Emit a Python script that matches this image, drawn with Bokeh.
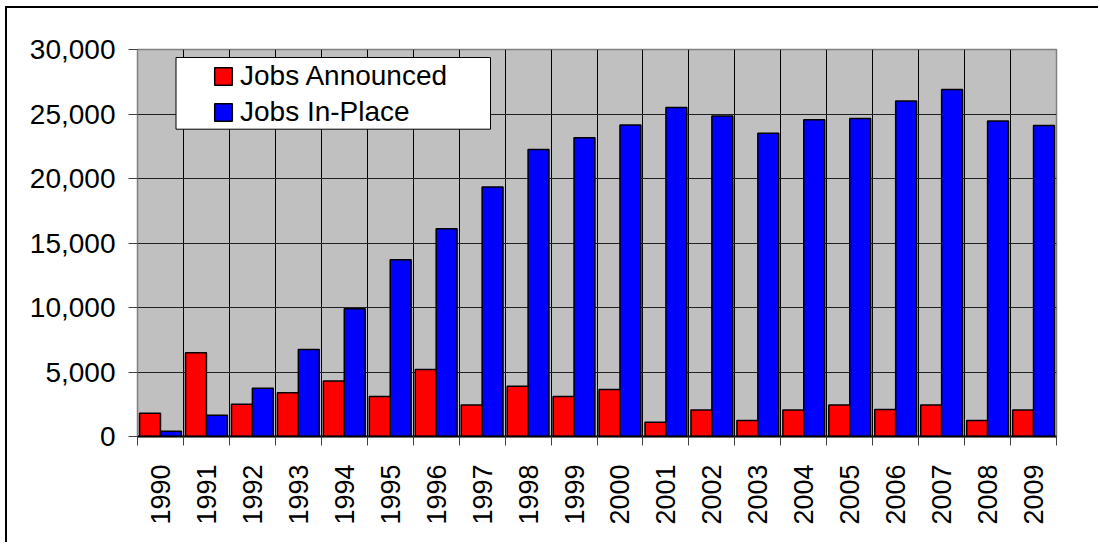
import math
from bokeh.plotting import figure
from bokeh.models import Range1d, FixedTicker, NumeralTickFormatter, BoxAnnotation, ColumnDataSource
from bokeh.embed import file_html
from bokeh.resources import INLINE

years = [str(y) for y in range(1990, 2010)]
jobs_announced = [1800, 6500, 2500, 3400, 4300, 3100, 5200, 2450, 3900, 3100,
                  3650, 1100, 2050, 1250, 2050, 2450, 2100, 2450, 1250, 2050]
jobs_in_place = [400, 1650, 3750, 6750, 9900, 13700, 16100, 19350, 22250, 23150,
                 24150, 25500, 24850, 23500, 24550, 24650, 26000, 26900, 24450, 24100]
y_ticks = [0, 5000, 10000, 15000, 20000, 25000, 30000]

FONT = "Liberation Sans"
W, H = 1093, 536
ML, MR, MT, MB = 130, 44, 41, 108
n = len(years)
ymax = y_ticks[-1]

p = figure(width=W, height=H, output_backend="svg", toolbar_location=None,
           x_range=Range1d(0, n), y_range=Range1d(0, ymax),
           min_border_left=ML, min_border_right=MR, min_border_top=MT, min_border_bottom=MB,
           background_fill_color="#C0C0C0", border_fill_color="white",
           styles={"border-left": "2px solid black", "border-top": "2px solid black"})
p.margin = (6, 0, 0, 5)

fw, fh = W - ML - MR, H - MT - MB

# legend background box (drawn before legend)
bx0, bx1, by0, by1 = 38.5, 353.0, 8.0, 79.7  # px offsets from frame top-left
box = BoxAnnotation(left=bx0 * n / fw, right=bx1 * n / fw,
                    top=ymax - by0 * ymax / fh, bottom=ymax - by1 * ymax / fh,
                    fill_color="white", fill_alpha=1.0, line_color="black", line_width=1,
                    line_alpha=1.0)
p.add_layout(box)

centers = [i + 0.5 for i in range(n)]
src = ColumnDataSource(dict(
    xa=[c - 0.2275 for c in centers], xb=[c + 0.2275 for c in centers],
    a=jobs_announced, b=jobs_in_place))

p.vbar(x="xa", top="a", width=0.455, source=src, fill_color="#FF0000",
       line_color="black", line_width=1.5, legend_label="Jobs Announced")
p.vbar(x="xb", top="b", width=0.455, source=src, fill_color="#0000FF",
       line_color="black", line_width=1.5, legend_label="Jobs In-Place")

# x axis
xa = p.xaxis[0]
xa.ticker = FixedTicker(ticks=centers, minor_ticks=list(range(n + 1)))
xa.major_label_overrides = {c: y for c, y in zip(centers, years)}
xa.major_label_orientation = math.pi / 2
xa.major_tick_out = 0
xa.major_tick_in = 0
xa.minor_tick_out = 9
xa.minor_tick_in = 0
xa.minor_tick_line_color = "#404040"
xa.axis_line_color = "black"
xa.axis_line_width = 2
xa.major_label_standoff = 19
xa.major_label_text_font = FONT
xa.major_label_text_font_size = "27px"
xa.major_label_text_color = "black"

ya = p.yaxis[0]
ya.ticker = FixedTicker(ticks=y_ticks)
ya.formatter = NumeralTickFormatter(format="0,0")
ya.major_tick_out = 9
ya.major_tick_in = 0
ya.minor_tick_out = 0
ya.minor_tick_in = 0
ya.major_tick_line_color = "#404040"
ya.axis_line_color = "#808080"
ya.axis_line_width = 1
ya.major_label_standoff = 13
ya.major_label_text_font = FONT
ya.major_label_text_font_size = "28px"
ya.major_label_text_color = "black"

p.xgrid.ticker = FixedTicker(ticks=list(range(n + 1)))
p.xgrid.grid_line_color = "black"
p.xgrid.grid_line_width = 1
p.ygrid.grid_line_color = "#202020"
p.ygrid.grid_line_width = 1

p.outline_line_color = "#808080"
p.outline_line_width = 1.5

lg = p.legend[0]
lg.padding = 0
lg.margin = 0
lg.border_line_alpha = 0
lg.background_fill_alpha = 0
lg.label_text_font = FONT
lg.label_text_font_size = "28px"
lg.label_text_color = "black"
lg.glyph_width = 22
lg.glyph_height = 22
lg.label_standoff = 6
lg.spacing = 4
lg.label_height = 32
lg.location = (75, fh - 11 - 68)

open("out.html", "w").write(file_html(p, INLINE))
